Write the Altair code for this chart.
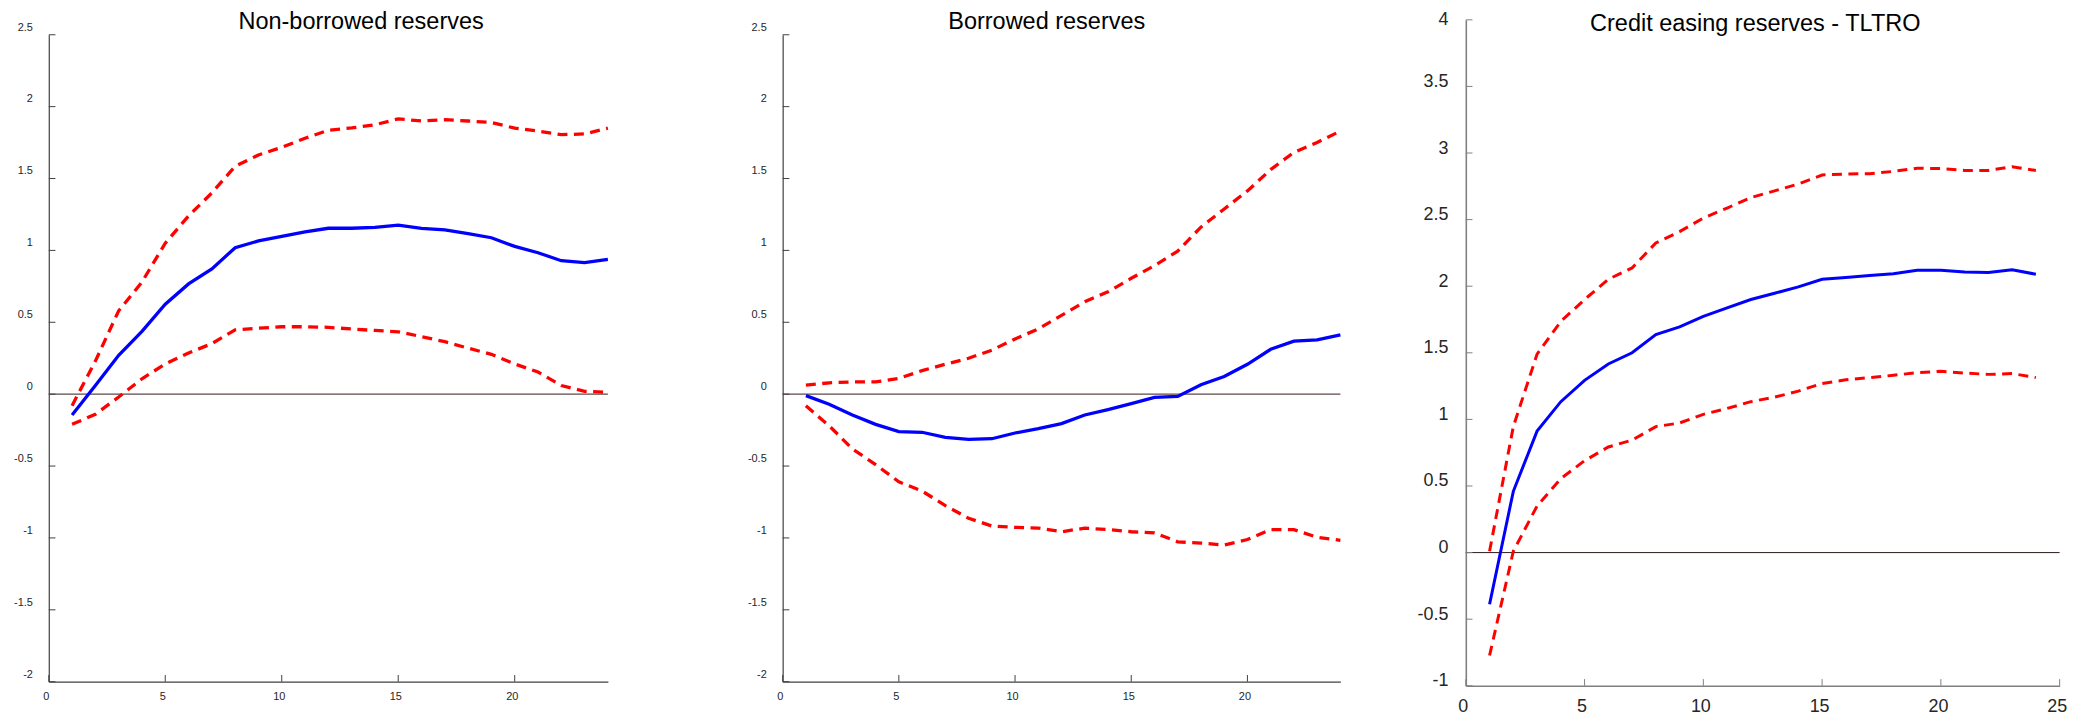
import altair as alt
import pandas as pd

steps = list(range(1, 25))

# Non-borrowed reserves
nbr_irf = [-0.145, 0.06, 0.27, 0.437, 0.626, 0.767, 0.871, 1.019, 1.066, 1.097, 1.129, 1.154,
           1.154, 1.16, 1.176, 1.154, 1.142, 1.116, 1.088, 1.028, 0.984, 0.928, 0.915, 0.937]
nbr_hi = [-0.08, 0.23, 0.58, 0.78, 1.05, 1.24, 1.40, 1.585, 1.664, 1.717, 1.78, 1.836,
          1.852, 1.874, 1.915, 1.90, 1.909, 1.90, 1.89, 1.85, 1.83, 1.805, 1.81, 1.85]
nbr_lo = [-0.21, -0.14, -0.02, 0.107, 0.21, 0.286, 0.352, 0.447, 0.459, 0.469, 0.469, 0.465,
          0.453, 0.443, 0.434, 0.40, 0.365, 0.32, 0.277, 0.21, 0.154, 0.06, 0.02, 0.013]

# Borrowed reserves
br_irf = [-0.01, -0.07, -0.145, -0.21, -0.26, -0.265, -0.30, -0.315, -0.31, -0.27, -0.24, -0.205,
          -0.145, -0.107, -0.066, -0.022, -0.016, 0.066, 0.123, 0.208, 0.312, 0.369, 0.378, 0.413]
br_hi = [0.063, 0.079, 0.085, 0.085, 0.11, 0.164, 0.208, 0.25, 0.306, 0.384, 0.454, 0.548,
         0.643, 0.712, 0.806, 0.894, 0.995, 1.162, 1.288, 1.414, 1.562, 1.682, 1.751, 1.83]
br_lo = [-0.08, -0.22, -0.38, -0.49, -0.61, -0.674, -0.775, -0.863, -0.917, -0.926, -0.932, -0.957,
         -0.932, -0.942, -0.957, -0.964, -1.027, -1.036, -1.049, -1.011, -0.942, -0.942, -0.995, -1.017]

# Credit easing reserves - TLTRO
ce_irf = [-0.388, 0.46, 0.912, 1.133, 1.293, 1.416, 1.50, 1.637, 1.695, 1.773, 1.838, 1.90,
          1.947, 1.995, 2.052, 2.066, 2.08, 2.093, 2.12, 2.12, 2.107, 2.103, 2.124, 2.09]
ce_hi = [0.01, 0.946, 1.49, 1.736, 1.90, 2.052, 2.137, 2.325, 2.41, 2.512, 2.587, 2.665,
         2.716, 2.767, 2.835, 2.842, 2.845, 2.862, 2.886, 2.883, 2.869, 2.869, 2.897, 2.869]
ce_lo = [-0.773, 0.01, 0.35, 0.555, 0.69, 0.793, 0.844, 0.946, 0.973, 1.038, 1.082, 1.133,
         1.167, 1.212, 1.27, 1.297, 1.314, 1.331, 1.351, 1.361, 1.348, 1.338, 1.344, 1.314]

titles = ["Non-borrowed reserves", "Borrowed reserves", "Credit easing reserves - TLTRO"]
xticks_12 = [0, 5, 10, 15, 20]
xticks_3 = [0, 5, 10, 15, 20, 25]
yticks_12 = [-2, -1.5, -1, -0.5, 0, 0.5, 1, 1.5, 2, 2.5]
yticks_3 = [-1, -0.5, 0, 0.5, 1, 1.5, 2, 2.5, 3, 3.5, 4]

FONT = "Liberation Sans"


def panel(title, irf, lo, hi, xdom, ydom, xticks, yticks, group_w, plot_w, h, top_gap,
          fs, title_x, title_y, ylab_pad, ylab_off, xlab_pad, axis_color, axis_w,
          zero_color, zero_w, line_w, tick_len, ybaseline):
    xs = alt.Scale(domain=xdom, range=[0, plot_w], nice=False, zero=False)
    ys = alt.Scale(domain=ydom, range=[h, top_gap], nice=False, zero=False)
    xaxis = alt.Axis(values=xticks, ticks=False, tickSize=0, grid=False, domain=True,
                     domainColor=axis_color, domainWidth=axis_w, labelFont=FONT,
                     labelFontSize=fs, labelColor="#262626", labelPadding=xlab_pad,
                     labelOffset=-3, labelFlush=False, labelOverlap=False,
                     labelExpr="'' + datum.value", title=None)
    yaxis = alt.Axis(values=yticks, ticks=False, tickSize=0, grid=False, domain=True,
                     domainColor=axis_color, domainWidth=axis_w, labelFont=FONT,
                     labelFontSize=fs, labelColor="#262626", labelPadding=ylab_pad,
                     labelOffset=ylab_off, labelBaseline=ybaseline, labelAlign="right",
                     labelFlush=False, labelOverlap=False,
                     labelExpr="'' + datum.value", title=None)

    mid = pd.DataFrame({"step": steps, "value": irf})
    bands = pd.DataFrame({"step": steps * 2, "value": lo + hi,
                          "band": ["lower"] * len(steps) + ["upper"] * len(steps)})
    zero = pd.DataFrame({"x0": [xdom[0]], "x1": [xdom[1]], "y": [0]})
    xt = pd.DataFrame({"t": xticks})
    yt = pd.DataFrame({"t": yticks})
    tt = pd.DataFrame({"title": [title]})

    zero_line = alt.Chart(zero).mark_rule(color=zero_color, strokeWidth=zero_w).encode(
        x=alt.X("x0:Q", scale=xs, axis=xaxis), x2="x1:Q",
        y=alt.Y("y:Q", scale=ys, axis=yaxis))
    band_lines = alt.Chart(bands).mark_line(color="#ff0000", strokeWidth=line_w,
                                            strokeDash=[10, 6.5]).encode(
        x=alt.X("step:Q", scale=xs, axis=xaxis),
        y=alt.Y("value:Q", scale=ys, axis=yaxis),
        detail="band:N")
    irf_line = alt.Chart(mid).mark_line(color="#0000ff", strokeWidth=line_w).encode(
        x=alt.X("step:Q", scale=xs, axis=xaxis),
        y=alt.Y("value:Q", scale=ys, axis=yaxis))
    x_ticks = alt.Chart(xt).mark_rule(color=axis_color, strokeWidth=1).encode(
        x=alt.X("t:Q", scale=xs, axis=xaxis),
        y=alt.value(h), y2=alt.value(h - tick_len))
    y_ticks = alt.Chart(yt).mark_rule(color=axis_color, strokeWidth=1).encode(
        y=alt.Y("t:Q", scale=ys, axis=yaxis),
        x=alt.value(0), x2=alt.value(tick_len))
    title_text = alt.Chart(tt).mark_text(font=FONT, fontSize=23.6, color="black",
                                         align="center", baseline="alphabetic").encode(
        text="title:N", x=alt.value(title_x), y=alt.value(title_y))

    return alt.layer(zero_line, band_lines, irf_line, x_ticks, y_ticks, title_text).properties(
        width=group_w, height=h)


p1 = panel(titles[0], nbr_irf, nbr_lo, nbr_hi, [0, 24], [-2, 2.5], xticks_12, yticks_12,
           632.2, 562.1, 665.4, 15.0, 11, 314.0, 9.2, 16.5, -4.7, 8.5,
           "#404040", 1.2, "#5e4848", 1.4, 3.3, 6.7, "alphabetic")
p2 = panel(titles[1], br_irf, br_lo, br_hi, [0, 24], [-2, 2.5], xticks_12, yticks_12,
           560.7, 560.7, 665.4, 15.0, 11, 265.5, 9.2, 16.5, -4.7, 8.5,
           "#404040", 1.2, "#5e4848", 1.4, 3.3, 6.7, "alphabetic")
p3 = panel(titles[2], ce_irf, ce_lo, ce_hi, [0, 25], [-1, 4], xticks_3, yticks_3,
           597.0, 597.0, 669.5, 0.0, 18, 291.0, 11.5, 18, 0, 11.7,
           "#808080", 1.6, "#2a1a1a", 1.0, 3.0, 6.7,
           alt.condition("datum.value == 4", alt.value("middle"), alt.value("alphabetic")))

chart = alt.hconcat(p1, p2, p3, spacing=68.8).properties(
    padding={"left": 5, "top": 0, "right": 0, "bottom": 0}
).configure(background="white").configure_view(strokeWidth=0, stroke="transparent")

chart.save("out.html", embed_options={"renderer": "svg", "actions": False})
